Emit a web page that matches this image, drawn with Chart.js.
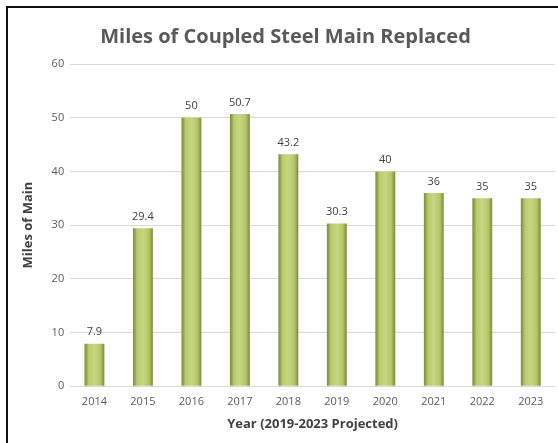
<!DOCTYPE html>
<html><head><meta charset="utf-8">
<script src="https://cdn.jsdelivr.net/npm/chart.js@4/dist/chart.umd.min.js"></script>
<style>
html,body{margin:0;padding:0;background:#fff;}
#wrap{position:relative;width:558px;height:443px;overflow:hidden;}
#frame{position:absolute;left:6px;top:6px;width:600px;height:500px;border-left:2px solid #111;border-top:2px solid #111;box-sizing:border-box;pointer-events:none;}
canvas{position:absolute;left:0;top:0;}
</style></head>
<body><div id="wrap"><canvas id="c" width="558" height="443"></canvas><div id="frame"></div></div>
<script>
const years = ['2014','2015','2016','2017','2018','2019','2020','2021','2022','2023'];
const miles = [7.9, 29.4, 50, 50.7, 43.2, 30.3, 40, 36, 35, 35];
const yTicks = [0, 10, 20, 30, 40, 50, 60];
const CAT_PCT = 0.41;

function barFill(c) {
  const chart = c.chart, s = chart.scales && chart.scales.x;
  if (!s || s.width === undefined || isNaN(s.width)) return '#a9bb5c';
  const x = s.getPixelForValue(c.dataIndex);
  const w = s.width / years.length * CAT_PCT;
  const g = chart.ctx.createLinearGradient(x - w / 2, 0, x + w / 2, 0);
  g.addColorStop(0, '#7e8d3c');
  g.addColorStop(0.12, '#9aac4e');
  g.addColorStop(0.2, '#b9cb70');
  g.addColorStop(0.5, '#c6d77f');
  g.addColorStop(0.8, '#b4c66a');
  g.addColorStop(0.9, '#98aa4c');
  g.addColorStop(1, '#7a8938');
  return g;
}

const labelPlugin = {
  id: 'valueLabels',
  afterDatasetsDraw(chart) {
    const ctx = chart.ctx;
    const meta = chart.getDatasetMeta(0);
    ctx.save();
    ctx.font = '11px "Open Sans", sans-serif';
    ctx.fillStyle = '#404040';
    ctx.textAlign = 'center';
    ctx.textBaseline = 'bottom';
    meta.data.forEach((el, i) => {
      ctx.fillText(String(miles[i]), el.x, el.y - 6);
    });
    ctx.restore();
  }
};

new Chart(document.getElementById('c'), {
  type: 'bar',
  data: {
    labels: years,
    datasets: [{
      data: miles,
      backgroundColor: barFill,
      borderWidth: 0,
      barPercentage: 1,
      categoryPercentage: CAT_PCT
    }]
  },
  options: {
    responsive: false,
    animation: false,
    devicePixelRatio: 1,
    layout: { padding: { left: 16, right: 3, top: 10, bottom: 7 } },
    plugins: {
      legend: { display: false },
      tooltip: { enabled: false },
      title: {
        display: true,
        text: 'Miles of Coupled Steel Main Replaced',
        color: '#595959',
        font: { family: 'Open Sans', size: 20, weight: 'bold' },
        padding: { top: 15, bottom: 15 }
      }
    },
    scales: {
      x: {
        grid: { display: false },
        border: { display: false },
        ticks: { color: '#595959', font: { family: 'Open Sans', size: 11 }, padding: 1 },
        title: { display: true, text: 'Year (2019-2023 Projected)', color: '#404040', font: { family: 'Open Sans', size: 13, weight: 'bold' }, padding: { top: 7 } }
      },
      y: {
        min: 0, max: 60,
        afterBuildTicks(axis) { axis.ticks = yTicks.map(v => ({ value: v })); },
        grid: { color: '#d9d9d9', lineWidth: 1, drawTicks: false },
        border: { display: false },
        ticks: { color: '#595959', font: { family: 'Open Sans', size: 11 }, padding: 6 },
        title: { display: true, text: 'Miles of Main', color: '#404040', font: { family: 'Open Sans', size: 13, weight: 'bold' }, padding: { bottom: 10 } }
      }
    }
  },
  plugins: [labelPlugin]
});
</script>
</body></html>
